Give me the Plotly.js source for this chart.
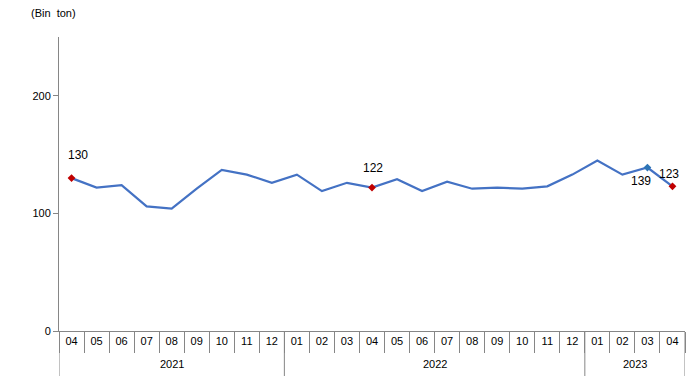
<!DOCTYPE html>
<html>
<head>
<meta charset="utf-8">
<script src="https://cdn.plot.ly/plotly-3.0.1.min.js"></script>
<style>html,body{margin:0;padding:0;background:#fff}#chart{width:691px;height:376px}</style>
</head>
<body>
<div id="chart"></div>
<script>
const years  = ["2021","2021","2021","2021","2021","2021","2021","2021","2021",
                "2022","2022","2022","2022","2022","2022","2022","2022","2022","2022","2022","2022",
                "2023","2023","2023","2023"];
const months = ["04","05","06","07","08","09","10","11","12",
                "01","02","03","04","05","06","07","08","09","10","11","12",
                "01","02","03","04"];
const values = [130,122,124,106,104,121,137,133,126,
                133,119,126,122,129,119,127,121,122,121,123,133,
                145,133,139,123];
const unitLabel = "(Bin  ton)";
// highlighted points: index, label, colour
const hlIndex  = [0, 12, 23, 24];
const hlLabels = ["130","122","139","123"];
const hlColors = ["#C00000","#C00000","#2E75B6","#C00000"];
const hlShiftX = [6, 1, -6, -3];
const hlShiftY = [23, 20, -13, 12];

const cats = years.map((y,i) => y + "-" + months[i]);
const font = {family:"Liberation Sans, Arial, sans-serif", size:11, color:"#000"};
const axisGray = "#868686";

const traces = [{
  type:"scatter", mode:"lines",
  x:cats, y:values,
  line:{color:"#4472C4", width:2.2},
  hoverinfo:"skip", showlegend:false
},{
  type:"scatter", mode:"markers",
  x:hlIndex.map(i => cats[i]), y:hlIndex.map(i => values[i]),
  marker:{symbol:"diamond", size:6, color:hlColors},
  cliponaxis:false, showlegend:false, hoverinfo:"skip"
}];

// year groups
const groups = [];
years.forEach((y,i) => {
  if (!groups.length || groups[groups.length-1].year !== y) groups.push({year:y, start:i, end:i});
  else groups[groups.length-1].end = i;
});

const annotations = [{
  text:unitLabel, xref:"paper", yref:"paper", x:-0.048, y:1.082,
  xanchor:"left", yanchor:"middle", showarrow:false,
  font:{family:font.family, size:11, color:"#000"}
}];
hlIndex.forEach((idx,k) => annotations.push({
  text:hlLabels[k], xref:"x", yref:"y", x:idx, y:values[idx],
  xshift:hlShiftX[k], yshift:hlShiftY[k], showarrow:false,
  xanchor:"center", yanchor:"middle",
  font:{family:font.family, size:12, color:"#000"}
}));
groups.forEach(g => annotations.push({
  text:g.year, xref:"x", yref:"paper", x:(g.start+g.end)/2, y:-0.112,
  xanchor:"center", yanchor:"middle", showarrow:false,
  font:{family:font.family, size:11, color:"#000"}
}));

const shapes = [];
const bounds = [groups[0].start - 0.5].concat(groups.map(g => g.end + 0.5));
bounds.forEach(b => shapes.push({
  type:"line", xref:"x", yref:"paper", x0:b, x1:b, y0:0, y1:-0.16,
  line:{color:axisGray, width:1}
}));

const layout = {
  width:691, height:376,
  margin:{l:59, r:6, t:37, b:45},
  paper_bgcolor:"#fff", plot_bgcolor:"#fff",
  font:font,
  showlegend:false,
  xaxis:{
    type:"category", range:[-0.5, cats.length-0.5],
    tickmode:"array", tickvals:cats, ticktext:months,
    tickson:"boundaries", ticks:"outside", ticklen:21, tickcolor:axisGray, tickwidth:1,
    showline:true, linecolor:axisGray, linewidth:1,
    showgrid:false, zeroline:false,
    tickfont:{family:font.family, size:11, color:"#000"},
    fixedrange:true
  },
  yaxis:{
    range:[0,250], tickvals:[0,100,200], ticktext:["0","100","200"],
    ticks:"outside", ticklen:5, tickcolor:axisGray,
    showline:true, linecolor:axisGray, linewidth:1,
    showgrid:false, zeroline:false,
    tickfont:{family:font.family, size:11, color:"#000"},
    fixedrange:true
  },
  annotations:annotations,
  shapes:shapes
};

Plotly.newPlot("chart", traces, layout, {displayModeBar:false, staticPlot:true});
</script>
</body>
</html>
